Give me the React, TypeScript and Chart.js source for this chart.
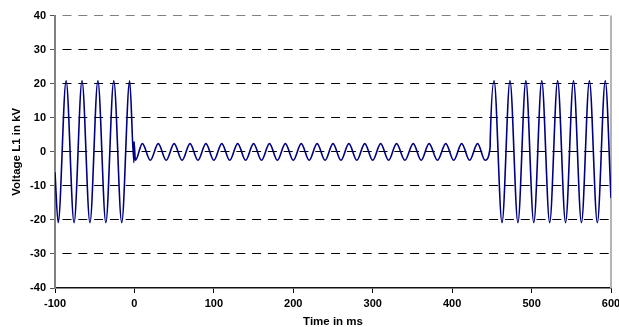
import React, { useEffect, useRef } from 'react';
import { Chart, registerables } from 'chart.js';

Chart.register(...registerables);

// Pre-fault: extrema of the 50 Hz voltage (time in ms, kV)
const preTime = [-100, -96, -86, -76, -66, -56, -46, -36, -26, -16, -6, -0.6];
const preKV = [-6, -20.8, 20.8, -20.8, 20.8, -20.8, 20.8, -20.8, 20.8, -20.8, 20.8, -3.2];

// Fault period: small residual voltage
const faultTime = [
  -0.5, 1.2,
  10, 20, 30, 40, 50, 60, 70, 80, 90, 100,
  110, 120, 130, 140, 150, 160, 170, 180, 190, 200,
  210, 220, 230, 240, 250, 260, 270, 280, 290, 300,
  310, 320, 330,
  340.5, 351, 361, 371, 381.5, 392, 402, 412, 422, 432, 441.5,
  447.8,
];
const faultKV = [
  3, -2.5,
  2.4, -2.5, 2.4, -2.5, 2.4, -2.5, 2.4, -2.5, 2.4, -2.5,
  2.4, -2.5, 2.4, -2.5, 2.4, -2.5, 2.4, -2.5, 2.4, -2.5,
  2.4, -2.5, 2.4, -2.5, 2.4, -2.5, 2.4, -2.5, 2.4, -2.5,
  2.4, -2.5, 2.4,
  -2.5, 2.4, -2.5, 2.4, -2.5, 2.4, -2.5, 2.4, -2.5, 2.4, -2.5,
  1.2,
];

// Post-fault: voltage recovered
const postTime = [448, 452.8, 462.8, 472.8, 482.8, 492.8, 502.8, 512.8, 522.8, 532.8, 542.8, 552.8, 562.8, 572.8, 582.8, 592.8, 600];
const postKV = [3.8, 20.8, -20.8, 20.8, -20.8, 20.8, -20.8, 20.8, -20.8, 20.8, -20.8, 20.8, -20.8, 20.8, -20.8, 20.8, -13.6];

const xTickMin = -100;
const xTickMax = 600;
const xTickStep = 100;
const yTickMin = -40;
const yTickMax = 40;
const yTickStep = 10;

const FONT = "'Liberation Sans', Arial, Helvetica, sans-serif";

export default function App() {
  const ref = useRef<HTMLCanvasElement>(null);

  useEffect(() => {
    if (!ref.current) return;
    const times = [...preTime, ...faultTime, ...postTime];
    const kv = [...preKV, ...faultKV, ...postKV];
    const points = times.map((t, i) => ({ x: t, y: kv[i] }));

    const frame = {
      id: 'frameRight',
      beforeDatasetsDraw(chart: any) {
        const { ctx, chartArea: a } = chart;
        ctx.save();
        ctx.strokeStyle = '#b4b4b4';
        ctx.lineWidth = 2;
        ctx.beginPath();
        ctx.moveTo(a.right, a.top);
        ctx.lineTo(a.right, a.bottom);
        ctx.stroke();
        ctx.restore();
      },
    };

    const font = { family: FONT, size: 11, weight: 'bold' as const };
    const titleFont = { family: FONT, size: 11.5, weight: 'bold' as const };

    const chart = new Chart(ref.current, {
      type: 'line',
      data: {
        datasets: [
          {
            data: points,
            borderColor: '#000080',
            borderWidth: 1.6,
            pointRadius: 0,
            fill: false,
            cubicInterpolationMode: 'monotone',
          },
        ],
      },
      options: {
        responsive: false,
        devicePixelRatio: 1,
        animation: false,
        layout: { padding: { top: 15.5, right: 8, bottom: 0, left: 0 } },
        plugins: { legend: { display: false }, tooltip: { enabled: false } },
        scales: {
          x: {
            type: 'linear',
            min: xTickMin,
            max: xTickMax,
            ticks: {
              stepSize: xTickStep,
              autoSkip: false,
              maxRotation: 0,
              color: '#000',
              font,
              padding: 4,
            },
            grid: {
              drawOnChartArea: false,
              drawTicks: true,
              tickLength: 5,
              tickColor: '#000',
              tickWidth: 1,
            },
            border: { display: true, color: '#111', width: 1.5 },
            title: {
              display: true,
              text: 'Time in ms',
              color: '#000',
              font: { ...titleFont, lineHeight: 1 },
              padding: { top: 0, bottom: -0.5 },
            },
            afterFit: (s: any) => {
              s.height = 39;
              s.paddingLeft = 0;
              s.paddingRight = 0;
            },
          },
          y: {
            type: 'linear',
            min: yTickMin,
            max: yTickMax,
            ticks: { stepSize: yTickStep, color: '#000', font, padding: 4 },
            grid: {
              color: (c: any) =>
                c.tick && c.tick.value === yTickMax
                  ? '#808080'
                  : c.tick && c.tick.value === yTickMin
                  ? 'rgba(0,0,0,0)'
                  : '#000',
              lineWidth: 1,
              drawTicks: true,
              tickLength: 5,
              tickColor: '#555',
            },
            border: { display: true, color: '#808080', width: 2, dash: [9, 6.8], dashOffset: 9.3 },
            title: {
              display: true,
              text: 'Voltage L1 in kV',
              color: '#000',
              font: titleFont,
              padding: { top: 10, bottom: 0 },
            },
            afterFit: (s: any) => {
              s.width = 55;
              s.paddingTop = 0;
              s.paddingBottom = 0;
            },
          },
        },
      },
      plugins: [frame],
    } as any);

    return () => chart.destroy();
  }, []);

  return (
    <canvas
      ref={ref}
      width={619}
      height={327}
      style={{ position: 'fixed', left: 0, top: 0, width: 619, height: 327 }}
    />
  );
}
